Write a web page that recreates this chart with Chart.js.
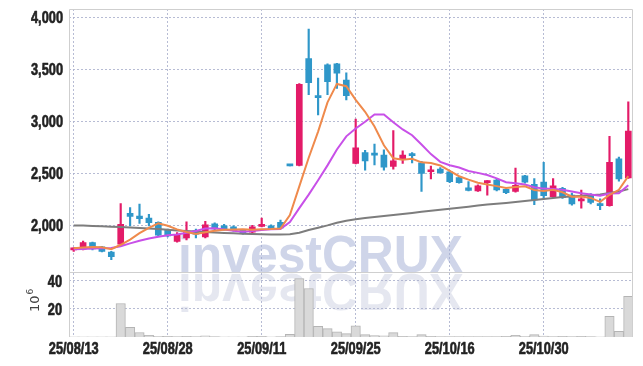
<!DOCTYPE html>
<html><head><meta charset="utf-8">
<style>html,body{margin:0;padding:0;background:#fff;}#wrap{width:643px;height:366px;}</style>
<script src="https://cdn.jsdelivr.net/npm/chart.js@4.4.1/dist/chart.umd.min.js"></script>
</head><body><div id="wrap"><canvas id="c" width="643" height="366"></canvas></div>
<script>
const dates = ['25/08/13','25/08/14','25/08/18','25/08/19','25/08/20','25/08/21','25/08/22','25/08/25','25/08/26','25/08/27',
'25/08/28','25/08/29','25/09/01','25/09/02','25/09/03','25/09/04','25/09/05','25/09/08','25/09/09','25/09/10',
'25/09/11','25/09/12','25/09/15','25/09/16','25/09/17','25/09/18','25/09/19','25/09/22','25/09/23','25/09/24',
'25/09/25','25/09/26','25/09/29','25/09/30','25/10/01','25/10/02','25/10/10','25/10/13','25/10/14','25/10/15',
'25/10/16','25/10/17','25/10/20','25/10/21','25/10/22','25/10/23','25/10/24','25/10/27','25/10/28','25/10/29',
'25/10/30','25/10/31','25/11/03','25/11/04','25/11/05','25/11/06','25/11/07','25/11/10','25/11/11','25/11/12'];
const opens = [1765,1772,1835,1795,1745,1820,2115,2090,2070,2030,1955,1845,1880,1950,1890,2015,1995,1985,1955,1935,
1990,1995,2030,2578,2575,3600,3245,3540,3550,3395,2595,2700,2690,2675,2565,2635,2690,2600,2515,2540,
2515,2460,2360,2330,2410,2435,2345,2325,2475,2395,2415,2275,2355,2290,2235,2295,2200,2190,2640,2455];
const highs = [1785,1850,1840,1800,1750,2210,2170,2205,2105,2035,1965,1930,2035,1965,2040,2025,2010,1995,1960,2000,
2070,2005,2050,2580,3360,3885,3415,3550,3555,3465,3020,2720,2780,2725,2910,2715,2700,2615,2570,2555,
2525,2470,2420,2390,2430,2445,2350,2550,2480,2450,2605,2450,2365,2310,2340,2305,2255,2855,2655,3185];
const lows = [1750,1765,1765,1745,1670,1800,1995,2020,1995,1900,1890,1840,1860,1880,1880,1955,1955,1945,1915,1925,
1985,1960,1970,2570,2570,3255,3060,3255,3315,3205,2590,2530,2580,2530,2540,2595,2600,2325,2445,2500,
2410,2405,2330,2325,2290,2330,2305,2320,2405,2200,2260,2270,2260,2195,2165,2205,2150,2185,2425,2450];
const closes = [1772,1835,1775,1750,1700,2010,2085,2065,2025,1905,1900,1915,1940,1915,2005,1965,1965,1950,1925,1985,
1995,1970,1975,2572,3355,3370,3225,3380,3460,3245,2745,2620,2675,2560,2620,2675,2670,2500,2525,2505,
2420,2410,2335,2380,2420,2340,2315,2385,2415,2245,2285,2380,2265,2205,2250,2220,2190,2605,2445,2905];
const ma5 = [1780,1788,1792,1790,1772,1814,1864,1925,1977,2020,1996,1962,1937,1918,1935,1948,1958,1960,1962,1958,
1964,1965,1970,2100,2374,2649,2900,3181,3358,3336,3205,3090,2949,2769,2644,2630,2640,2605,2598,2575,
2524,2472,2439,2410,2393,2377,2358,2368,2375,2340,2329,2342,2318,2276,2277,2264,2226,2294,2342,2473];
const ma10 = [1770,1774,1778,1780,1782,1800,1827,1852,1875,1892,1905,1913,1930,1946,1970,1972,1960,1949,1939,1947,
1956,1962,1965,2031,2166,2295,2433,2576,2729,2855,2930,2995,3065,3064,2990,2921,2865,2777,2684,2610,
2577,2556,2522,2504,2484,2451,2415,2404,2393,2367,2353,2350,2343,2326,2309,2297,2284,2306,2309,2385];
const ma60 = [2000,1998,1995,1992,1988,1985,1980,1975,1970,1965,1958,1952,1947,1942,1937,1932,1928,1924,1920,1917,
1914,1912,1912,1915,1930,1955,1978,2000,2025,2045,2058,2070,2080,2090,2100,2110,2120,2130,2140,2150,
2160,2170,2180,2190,2200,2208,2216,2224,2234,2244,2254,2264,2272,2278,2284,2290,2297,2310,2326,2348];
const volumes = [0.1,0.2,0.1,0.1,0.2,23.9,6.9,3.2,1.2,0.5,0.4,0.3,0.4,0.3,0.9,0.3,0.2,0.2,0.2,0.4,
0.4,0.2,0.3,1.9,41.7,34.6,7.6,6.0,3.6,2.4,7.9,1.7,1.0,0.9,3.1,0.4,0.3,1.7,0.4,0.3,
0.3,0.3,0.3,0.3,0.3,0.3,0.4,1.2,0.5,1.7,0.6,0.3,0.4,0.3,0.4,0.3,0.2,14.8,4.0,29.0];
const priceTicks = [2000,2500,3000,3500,4000];
const volumeTicks = [20,40];
const labelIdx = [0,10,20,30,40,50];

const UP = '#e31b68', DOWN = '#2f97c9';
const candleColors = closes.map((c,i)=> c >= opens[i] ? UP : DOWN);
const FONT = '"Liberation Sans", Arial, sans-serif';
const GRID = 'rgba(170,176,205,0.85)';
const tickFont = {family: FONT, size: 16, weight: 'bold'};
const TICK_COLOR = '#222';

// draw the scale's own label items with a narrow (condensed) horizontal scale
function narrowLabels(sx, dy) {
  return function(chartArea) {
    const ctx = this.ctx;
    const items = this.getLabelItems(chartArea);
    for (const item of items) {
      const o = item.options;
      ctx.save();
      ctx.translate(o.translation[0], o.translation[1] + dy);
      ctx.scale(sx, 1);
      ctx.font = item.font.string;
      ctx.fillStyle = o.color;
      ctx.textAlign = o.textAlign;
      ctx.textBaseline = o.textBaseline;
      if (o.strokeWidth > 0) {
        ctx.strokeStyle = o.strokeColor;
        ctx.lineWidth = o.strokeWidth;
        ctx.lineJoin = 'round';
        ctx.strokeText(item.label, 0, item.textOffset);
      }
      ctx.fillText(item.label, 0, item.textOffset);
      ctx.restore();
    }
  };
}
function fixFit(size, isX) {
  return s => {
    if (isX) s.height = size; else s.width = size;
    s.paddingTop = 0; s.paddingBottom = 0; s.paddingLeft = 0; s.paddingRight = 0;
    s.drawLabels = narrowLabels(0.8, isX ? 0 : 1.5);
  };
}

const deco = {
  id: 'deco',
  beforeDatasetsDraw(chart) {
    const {ctx, chartArea} = chart;
    const ys = chart.scales.y, vs = chart.scales.yv;
    const base = ys.bottom;
    ctx.save();
    ctx.font = 'bold 52px "Liberation Sans", Arial, sans-serif';
    const w = ctx.measureText('investCRUX').width;
    const sx = 285 / w;
    const left = chartArea.left + 109;
    ctx.beginPath(); ctx.rect(chartArea.left, ys.top, chartArea.right - chartArea.left, ys.bottom - ys.top); ctx.clip();
    ctx.translate(left, base - 0.5); ctx.scale(sx, 1);
    ctx.fillStyle = 'rgba(160,172,212,0.5)';
    ctx.textBaseline = 'alphabetic';
    ctx.fillText('investCRUX', 0, 0);
    ctx.restore();
    ctx.save();
    ctx.font = 'bold 52px "Liberation Sans", Arial, sans-serif';
    ctx.beginPath(); ctx.rect(chartArea.left, vs.top, chartArea.right - chartArea.left, vs.bottom - vs.top); ctx.clip();
    ctx.translate(left, base + 2); ctx.scale(sx, -1);
    ctx.fillStyle = 'rgba(170,176,205,0.3)';
    ctx.textBaseline = 'alphabetic';
    ctx.fillText('investCRUX', 0, 0);
    ctx.restore();
  },
  afterDraw(chart) {
    const {ctx, chartArea} = chart;
    const ys = chart.scales.y;
    ctx.save();
    ctx.strokeStyle = '#cfcfcf';
    ctx.lineWidth = 1;
    ctx.beginPath();
    ctx.moveTo(chartArea.left + 0.5, chartArea.bottom);
    ctx.lineTo(chartArea.left + 0.5, chartArea.top + 0.5);
    ctx.lineTo(chartArea.right - 0.5, chartArea.top + 0.5);
    ctx.lineTo(chartArea.right - 0.5, chartArea.bottom);
    ctx.moveTo(chartArea.left, Math.round(ys.bottom) + 0.5);
    ctx.lineTo(chartArea.right, Math.round(ys.bottom) + 0.5);
    ctx.stroke();
    // 10^6 label
    ctx.translate(39, 312);
    ctx.rotate(-Math.PI / 2);
    ctx.fillStyle = '#444';
    ctx.textBaseline = 'alphabetic';
    ctx.font = '13px "DejaVu Sans", sans-serif';
    ctx.fillText('10', 0, 0);
    const tw = ctx.measureText('10').width;
    ctx.font = '9px "DejaVu Sans", sans-serif';
    ctx.fillText('6', tw + 1, -6);
    ctx.restore();
  }
};

const tickOpts = (pad, cb) => {
  const t = {padding: pad, font: tickFont, color: TICK_COLOR, textStrokeColor: TICK_COLOR, textStrokeWidth: 0.6};
  if (cb) t.callback = cb;
  return t;
};

new Chart(document.getElementById('c'), {
  data: {
    labels: dates,
    datasets: [
      {type:'line', label:'MA5', data: ma5, yAxisID:'y', borderColor:'#ef8a4c', borderWidth:2, pointRadius:0, tension:0, order:0},
      {type:'line', label:'MA10', data: ma10, yAxisID:'y', borderColor:'#c850e8', borderWidth:2, pointRadius:0, tension:0, order:1},
      {type:'line', label:'MA60', data: ma60, yAxisID:'y', borderColor:'#7d7d7d', borderWidth:2, pointRadius:0, tension:0, order:2},
      {type:'bar', label:'body', data: opens.map((o,i)=>[o, closes[i]]), yAxisID:'y', backgroundColor: candleColors,
        borderWidth:0, barThickness:6, grouped:false, minBarLength:2, order:3},
      {type:'bar', label:'wick', data: lows.map((l,i)=>[l, highs[i]]), yAxisID:'y', backgroundColor: candleColors,
        borderWidth:0, barThickness:1.5, grouped:false, order:4},
      {type:'bar', label:'volume', data: volumes, yAxisID:'yv', backgroundColor:'#d9d9d9', borderColor:'#b4b4b4',
        borderWidth:1, barPercentage:1, categoryPercentage:1, grouped:false, order:5}
    ]
  },
  options: {
    responsive: false,
    animation: false,
    devicePixelRatio: 1,
    layout: {padding: {top: 9, right: 10, left: 0, bottom: 0}},
    plugins: {legend: {display: false}, tooltip: {enabled: false}},
    scales: {
      x: {
        type: 'category', offset: true,
        grid: {offset: false, drawTicks: false, color: GRID, lineWidth: 1},
        border: {display: false, dash: [2, 2]},
        ticks: Object.assign(tickOpts(3), {autoSkip: false, maxRotation: 0}),
        afterBuildTicks: s => { s.ticks = labelIdx.map(i => ({value: i})); },
        afterFit: fixFit(29, true)
      },
      yv: {
        type: 'linear', position: 'left', stack: 'pane', stackWeight: 64.4, min: 0, max: 46,
        grid: {drawTicks: false, color: GRID},
        border: {display: false, dash: [2, 2]},
        ticks: tickOpts(7, v => String(v)),
        afterBuildTicks: s => { s.ticks = volumeTicks.map(v => ({value: v})); },
        afterFit: fixFit(69, false)
      },
      y: {
        type: 'linear', position: 'left', stack: 'pane', stackWeight: 263, min: 1548, max: 4077,
        grid: {drawTicks: false, color: GRID},
        border: {display: false, dash: [2, 2]},
        ticks: tickOpts(6, v => v.toLocaleString('en-US')),
        afterBuildTicks: s => { s.ticks = priceTicks.map(v => ({value: v})); },
        afterFit: fixFit(69, false)
      }
    }
  },
  plugins: [deco]
});
</script></body></html>
